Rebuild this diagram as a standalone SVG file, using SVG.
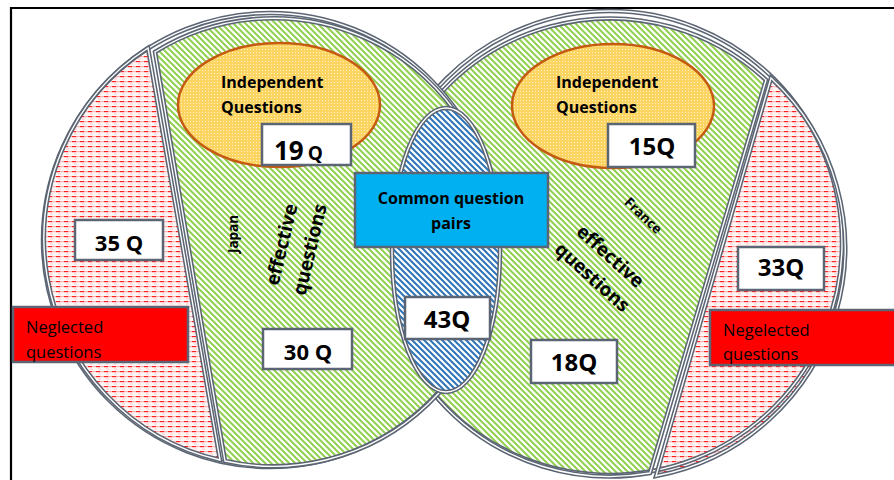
<svg xmlns="http://www.w3.org/2000/svg" width="894" height="480" viewBox="0 0 894 480">
  <defs>
    <!-- green diagonal hatch for the effective-question areas -->
    <pattern id="hatchGreen" width="6" height="6" patternUnits="userSpaceOnUse">
      <rect width="6" height="6" fill="#ffffff"/>
      <path d="M0,0 L6,6 M-1,5 L1,7 M5,-1 L7,1" stroke="#92d050" stroke-width="2"/>
    </pattern>
    <!-- blue diagonal hatch for the common area -->
    <pattern id="hatchBlue" width="6" height="6" patternUnits="userSpaceOnUse">
      <rect width="6" height="6" fill="#ffffff"/>
      <path d="M0,0 L6,6 M-1,5 L1,7 M5,-1 L7,1" stroke="#2e75b6" stroke-width="2"/>
    </pattern>
    <!-- dashed horizontal red fill for the neglected areas -->
    <pattern id="dashRed" width="8" height="5" patternUnits="userSpaceOnUse">
      <rect width="8" height="5" fill="#fff6f6"/>
      <rect x="0" y="1" width="4" height="1.2" fill="#ff2020"/>
      <rect x="4" y="1" width="4" height="1.2" fill="#ffb0b0"/>
      <rect x="2" y="3.5" width="3" height="1" fill="#ffc8c8"/>
    </pattern>
    <!-- dotted yellow fill for the independent-question ellipses -->
    <pattern id="dotsYellow" width="3" height="3" patternUnits="userSpaceOnUse">
      <rect width="3" height="3" fill="#fcd462"/>
      <rect x="1" y="1" width="1" height="1" fill="#fff2c4"/>
    </pattern>
  </defs>

  <style>
    .outline { fill: none; stroke: #5b6573; stroke-width: 4.5; }
    .inner { fill: none; stroke: #ffffff; stroke-width: 1.4; }
    .box { fill: #ffffff; stroke: #5b6573; stroke-width: 2.5; }
    .indep { fill: url(#dotsYellow); stroke: #c55a11; stroke-width: 2.5; }
    .lbl { font-family: "Open Sans", "Liberation Sans", sans-serif; fill: #000000; }
    .b { font-weight: bold; }
  </style>

  <!-- frame -->
  <path d="M11,480 L11,8 L894,8" fill="none" stroke="#000000" stroke-width="2.2"/>

  <!-- France circle -->
  <g id="circle-france">
    <path id="france-neglected" d="M771,78 A232,232 0 0,1 656,476 Z" fill="url(#dashRed)"/>
    <path id="france-effective" d="M766,80 A229,229 0 1,0 650,473 Z" fill="url(#hatchGreen)"/>
    <circle cx="610" cy="243" r="232" class="outline"/>
    <circle cx="610" cy="243" r="232" class="inner"/>
    <path d="M771,78 A232,232 0 0,1 656,476 Z" class="outline"/>
    <path d="M771,78 A232,232 0 0,1 656,476 Z" class="inner"/>
    <path d="M766,80 A229,229 0 1,0 650,473 Z" class="outline"/>
    <path d="M766,80 A229,229 0 1,0 650,473 Z" class="inner"/>
  </g>

  <!-- Japan circle -->
  <g id="circle-japan">
    <path id="japan-neglected" d="M148,48 A227,227 0 0,0 220,460 Z" fill="url(#dashRed)"/>
    <path id="japan-effective" d="M155,52 A224,224 0 1,1 225,461 Z" fill="url(#hatchGreen)"/>
    <circle cx="270" cy="240" r="227" class="outline"/>
    <circle cx="270" cy="240" r="227" class="inner"/>
    <path d="M148,48 A227,227 0 0,0 220,460 Z" class="outline"/>
    <path d="M148,48 A227,227 0 0,0 220,460 Z" class="inner"/>
    <path d="M155,52 A224,224 0 1,1 225,461 Z" class="outline"/>
    <path d="M155,52 A224,224 0 1,1 225,461 Z" class="inner"/>
  </g>

  <!-- common area -->
  <g id="common-area">
    <ellipse cx="446" cy="250" rx="54" ry="142" fill="url(#hatchBlue)"/>
    <ellipse cx="446" cy="250" rx="54" ry="142" class="outline"/>
    <ellipse cx="446" cy="250" rx="54" ry="142" class="inner"/>
  </g>

  <!-- independent questions -->
  <g id="japan-independent">
    <ellipse cx="279" cy="105" rx="101" ry="62" class="indep"/>
    <text class="lbl b" x="221" y="88" font-size="16">Independent</text>
    <text class="lbl b" x="221" y="113" font-size="16">Questions</text>
  </g>
  <g id="france-independent">
    <ellipse cx="613" cy="106" rx="101" ry="62" class="indep"/>
    <text class="lbl b" x="556" y="88" font-size="16">Independent</text>
    <text class="lbl b" x="556" y="113" font-size="16">Questions</text>
  </g>

  <!-- count boxes -->
  <g id="count-19">
    <rect x="262" y="124" width="89" height="41" class="box"/>
    <text class="lbl b" x="274" y="160" font-size="26">19<tspan font-size="19" dx="4">Q</tspan></text>
  </g>
  <g id="count-15">
    <rect x="608" y="124" width="87" height="43" class="box"/>
    <text class="lbl b" x="652" y="155" font-size="24" text-anchor="middle">15Q</text>
  </g>
  <g id="count-35">
    <rect x="75" y="220" width="88" height="40" class="box"/>
    <text class="lbl b" x="119" y="251" font-size="22" text-anchor="middle">35 Q</text>
  </g>
  <g id="count-30">
    <rect x="263" y="329" width="89" height="40" class="box"/>
    <text class="lbl b" x="308" y="360" font-size="22" text-anchor="middle">30 Q</text>
  </g>
  <g id="count-43">
    <rect x="405" y="297" width="85" height="42" class="box"/>
    <text class="lbl b" x="447" y="328" font-size="24" text-anchor="middle">43Q</text>
  </g>
  <g id="count-18">
    <rect x="531" y="340" width="86" height="43" class="box"/>
    <text class="lbl b" x="574" y="371" font-size="24" text-anchor="middle">18Q</text>
  </g>
  <g id="count-33">
    <rect x="738" y="247" width="86" height="43" class="box"/>
    <text class="lbl b" x="781" y="276" font-size="24" text-anchor="middle">33Q</text>
  </g>

  <!-- common question pairs label -->
  <g id="common-label">
    <rect x="355" y="173" width="193" height="74" fill="#00b0f0" stroke="#5b6573" stroke-width="2.5"/>
    <text class="lbl b" x="451" y="204" font-size="16" text-anchor="middle">Common question</text>
    <text class="lbl b" x="451" y="229" font-size="16" text-anchor="middle">pairs</text>
  </g>

  <!-- neglected labels -->
  <g id="japan-neglected-label">
    <rect x="13" y="307" width="175" height="55" fill="#ff0000" stroke="#5b6573" stroke-width="2.5"/>
    <text class="lbl" x="26" y="333" font-size="16.5">Neglected</text>
    <text class="lbl" x="26" y="358" font-size="16.5">questions</text>
  </g>
  <g id="france-neglected-label">
    <rect x="710" y="310" width="190" height="55" fill="#ff0000" stroke="#5b6573" stroke-width="2.5"/>
    <text class="lbl" x="723" y="336" font-size="16.5">Negelected</text>
    <text class="lbl" x="723" y="360" font-size="16.5">questions</text>
  </g>

  <!-- rotated area captions -->
  <g id="japan-caption">
    <text class="lbl b" font-size="13.5" text-anchor="middle" transform="translate(238,234) rotate(-90)">Japan</text>
    <text class="lbl b" font-size="19" text-anchor="middle" transform="translate(288,246) rotate(-76.5)">effective</text>
    <text class="lbl b" font-size="19" text-anchor="middle" transform="translate(316,251) rotate(-76.5)">questions</text>
  </g>
  <g id="france-caption">
    <text class="lbl b" font-size="13.5" text-anchor="middle" transform="translate(640,219) rotate(43.5)">France</text>
    <text class="lbl b" font-size="19" text-anchor="middle" transform="translate(606,261) rotate(42)">effective</text>
    <text class="lbl b" font-size="19" text-anchor="middle" transform="translate(588,282) rotate(42)">questions</text>
  </g>
</svg>
